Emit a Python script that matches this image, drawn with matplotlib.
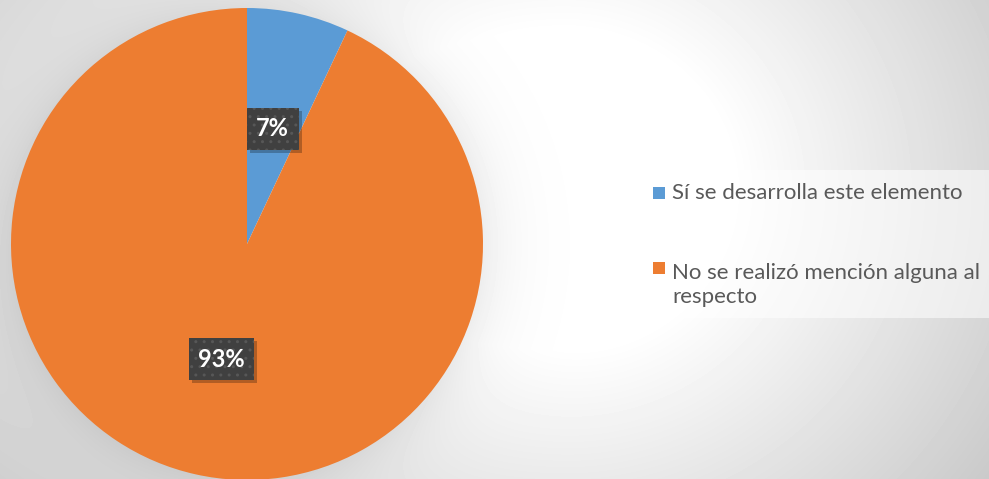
import numpy as np
import matplotlib.pyplot as plt
import matplotlib.transforms as mtransforms
from matplotlib.patches import Rectangle

# datos
categorias = ['Sí se desarrolla este elemento',
              'No se realizó mención alguna al\nrespecto']
valores = [7, 93]
colores = ['#5B9BD5', '#ED7D31']

W, H = 989, 479
fig = plt.figure(figsize=(W / 100, H / 100), dpi=100)


def px(x, y):
    # pixel (origen arriba-izquierda) -> fraccion de figura
    return x / W, 1 - y / H


# fondo con degradado gris
yy, xx = np.mgrid[0:H, 0:W].astype(float)
cx, cy = 560, 190
rx = np.where(xx < cx, 650, 430)
dn = np.sqrt(((xx - cx) / rx) ** 2 + ((yy - cy) / 400) ** 2)
val = 1 - 0.21 * np.clip((dn - 0.4) / 0.83, 0, 1)
# sombra suave alrededor del pastel
dp = np.sqrt((xx - 247) ** 2 + (yy - 244) ** 2) - 236
val -= 0.07 * np.exp(-np.clip(dp, 0, None) / 30) * (dp > -5)
bg = fig.add_axes([0, 0, 1, 1])
bg.imshow(val, cmap='gray', vmin=0, vmax=1, aspect='auto', interpolation='bilinear')
bg.axis('off')

# pastel
ax = fig.add_axes([11 / W, (H - 480) / H, 472 / W, 472 / H])
wedges, texts, autotexts = ax.pie(
    valores, colors=colores, startangle=90, counterclock=False,
    autopct='%1.0f%%', pctdistance=0.5,
    textprops=dict(color='white', fontsize=17, fontweight='bold', family='Lato'))
for t in autotexts:
    t.set_bbox(dict(boxstyle='square,pad=0.4', facecolor='#404040', edgecolor='#575757',
                    linewidth=0, hatch='..'))
    t.set_zorder(5)
ax.set_xlim(-1, 1)
ax.set_ylim(-1, 1)
ax.set_aspect('equal')

# sombra de las etiquetas (sobre el pastel, bajo la etiqueta)
fig.canvas.draw()
for t in autotexts:
    bb = t.get_bbox_patch().get_window_extent()
    ax.add_patch(Rectangle((bb.x0 + 3, bb.y0 - 3), bb.width, bb.height,
                           transform=mtransforms.IdentityTransform(), facecolor='black',
                           alpha=0.25, edgecolor='none', zorder=4, clip_on=False))

# leyenda
x0, y0 = px(648, 318)
x1, y1 = px(989, 170)
fig.patches.append(Rectangle((x0, y0), x1 - x0, y1 - y0, transform=fig.transFigure,
                             facecolor='white', alpha=0.55, edgecolor='none', zorder=1))
bases = [199, 274]
for lab, col, yb in zip(categorias, colores, bases):
    sx, sy = px(653, yb)
    fig.patches.append(Rectangle((sx, sy), 12 / W, 12 / H, transform=fig.transFigure,
                                 facecolor=col, edgecolor='none', zorder=2))
    n = lab.count('\n')
    tx, ty = px(672, yb + 29 * n)
    fig.text(tx, ty, lab, fontsize=16, color='#595959', family='Lato',
             va='baseline', ha='left', linespacing=1.25, zorder=3)

plt.savefig('out.png', dpi=100)
